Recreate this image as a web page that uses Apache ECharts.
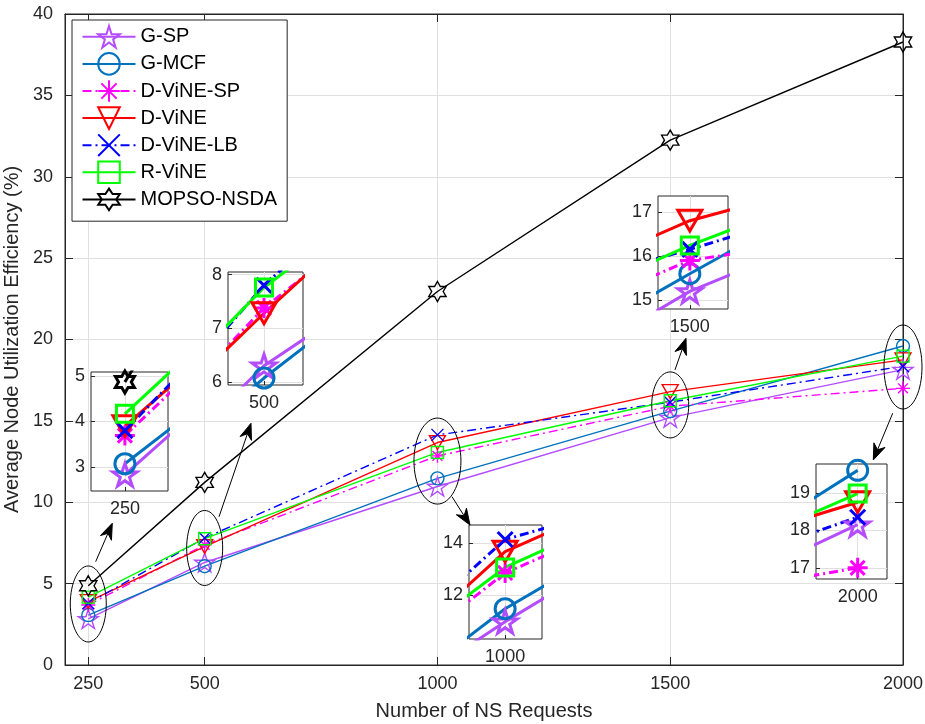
<!DOCTYPE html>
<html>
<head>
<meta charset="utf-8">
<script src="https://cdn.jsdelivr.net/npm/echarts@6/dist/echarts.min.js"></script>
<style>
  html, body { margin: 0; padding: 0; background: #fff; }
  #chart { width: 925px; height: 724px; }
</style>
</head>
<body>
<div id="chart"></div>
<script>
// ---- data ----------------------------------------------------------
const requests = [250, 500, 1000, 1500, 2000];
const xTickValues = [250, 500, 1000, 1500, 2000];
const seriesNames = ['G-SP', 'G-MCF', 'D-ViNE-SP', 'D-ViNE', 'D-ViNE-LB', 'R-ViNE', 'MOPSO-NSDA'];
const gSP     = [2.83, 6.30, 10.97, 15.20, 18.15];
const gMCF    = [3.07, 6.07, 11.47, 15.60, 19.60];
const dVineSP = [3.69, 7.38, 12.85, 15.90, 17.00];
const dVine   = [3.90, 7.28, 13.67, 16.80, 18.75];
const dVineLB = [3.80, 7.80, 14.14, 16.15, 18.35];
const rVine   = [4.17, 7.76, 13.06, 16.24, 18.98];
const mopso   = [4.87, 11.22, 22.95, 32.25, 38.28];

// magnified windows around each request count
const zoomCenters = [250, 500, 1000, 1500, 2000];
const zoomXRanges = [[202, 311], [452, 552], [901, 1101], [1450, 1560], [1912, 2062]];
const zoomYRanges = [[2.47, 5.09], [5.94, 8.05], [10.3, 14.7], [14.8, 17.36], [16.7, 19.77]];
const zoomYTicks  = [[3, 4, 5], [6, 7, 8], [12, 14], [15, 16, 17], [17, 18, 19]];

// ---- layout --------------------------------------------------------
const FONT = '"Liberation Sans", Arial, Helvetica, sans-serif';
const AXIS_COLOR = '#262626';
const GRID_COLOR = '#E0E0E0';
const mainBox = { left: 65, top: 14, width: 838, height: 651 };
const zoomBoxes = [
  { left: 91,  top: 372, width: 77, height: 119 },
  { left: 228, top: 272, width: 75, height: 113 },
  { left: 469, top: 525, width: 73, height: 114 },
  { left: 658, top: 196, width: 70, height: 113 },
  { left: 816, top: 464, width: 71, height: 115 }
];
// highlight ellipses: centre in data units, radii in px
const ellipses = [
  { at: [250, 3.75],   rx: 18,   ry: 38 },
  { at: [500, 7.19],   rx: 18,   ry: 37.5 },
  { at: [1000, 12.53], rx: 23.5, ry: 43 },
  { at: [1500, 15.98], rx: 18.5, ry: 33 },
  { at: [2000, 18.31], rx: 19,   ry: 42 }
];
// pointer arrows: tail -> tip in data units of the main axes
const arrows = [
  [[265.9, 6.35], [301.6, 8.71]],
  [[530.8, 9.11], [599.5, 14.85]],
  [[1031.3, 10.34], [1069.9, 8.6]],
  [[1510.2, 18.13], [1533.9, 20.07]],
  [[1977.9, 15.47], [1936.2, 12.6]]
];

// ---- marker shapes -------------------------------------------------
function starPath(points, innerRatio) {
  let d = '';
  for (let k = 0; k < 2 * points; k++) {
    const r = k % 2 === 0 ? 1 : innerRatio;
    const a = -Math.PI / 2 + k * Math.PI / points;
    d += (k ? 'L' : 'M') + (r * Math.cos(a)).toFixed(4) + ',' + (r * Math.sin(a)).toFixed(4);
  }
  return 'path://' + d + 'Z';
}
const pentagram = starPath(5, 0.382);
const hexagram = starPath(6, 0.577);
const asterisk = 'path://M0,-1L0,1M-1,0L1,0M-0.707,-0.707L0.707,0.707M-0.707,0.707L0.707,-0.707';
const crossMark = 'path://M-1,-1L1,1M-1,1L1,-1';
const triangleDown = 'path://M0,0L2,0L1,1.732Z';
const dashDot = [9, 4, 2, 4];

const looks = [
  { color: '#B44CFF', symbol: pentagram,    dash: 'solid', size: 20, zoomSize: 24 },
  { color: '#0072BD', symbol: 'circle',     dash: 'solid', size: 13, zoomSize: 20 },
  { color: '#FF00FF', symbol: asterisk,     dash: dashDot, size: 14, zoomSize: 20 },
  { color: '#FF0000', symbol: triangleDown, dash: 'solid', size: 16, zoomSize: 24 },
  { color: '#0000FF', symbol: crossMark,    dash: dashDot, size: 12, zoomSize: 15 },
  { color: '#00FF00', symbol: 'rect',       dash: 'solid', size: 12, zoomSize: 17 },
  { color: '#000000', symbol: hexagram,     dash: 'solid', size: 20, zoomSize: 22 }
];
const valueSets = [gSP, gMCF, dVineSP, dVine, dVineLB, rVine, mopso];
const toPairs = vals => requests.map((r, i) => [r, vals[i]]);
const plainNumber = v => String(v);

// ---- axes & grids --------------------------------------------------
const grids = [Object.assign({
  show: true, borderColor: AXIS_COLOR, borderWidth: 1, backgroundColor: 'transparent',
  z: 0, containLabel: false, outerBoundsMode: 'none'
}, mainBox)];
const xAxes = [
  {
    type: 'value', gridIndex: 0, min: 200, max: 2000, position: 'bottom',
    name: 'Number of NS Requests', nameLocation: 'middle', nameGap: 36,
    nameTextStyle: { fontFamily: FONT, fontSize: 20, color: AXIS_COLOR },
    axisLine: { show: true, onZero: false, lineStyle: { color: AXIS_COLOR, width: 1 } },
    axisTick: { show: true, inside: true, length: 8, customValues: xTickValues, lineStyle: { color: AXIS_COLOR } },
    axisLabel: { show: true, customValues: xTickValues, formatter: plainNumber, margin: 10, fontFamily: FONT, fontSize: 18, color: AXIS_COLOR },
    splitLine: { show: true, lineStyle: { color: GRID_COLOR, width: 1 } }
  },
  {
    type: 'value', gridIndex: 0, min: 200, max: 2000, position: 'top', z: 1,
    axisLine: { show: true, onZero: false, lineStyle: { color: AXIS_COLOR, width: 1 } },
    axisTick: { show: true, inside: true, length: 8, customValues: xTickValues, lineStyle: { color: AXIS_COLOR } },
    axisLabel: { show: false },
    splitLine: { show: false }
  }
];
const yAxes = [
  {
    type: 'value', gridIndex: 0, min: 0, max: 40, interval: 5, position: 'left',
    name: 'Average Node Utilization Efficiency (%)', nameLocation: 'middle', nameGap: 33,
    nameTextStyle: { fontFamily: FONT, fontSize: 20, color: AXIS_COLOR },
    axisLine: { show: true, onZero: false, lineStyle: { color: AXIS_COLOR, width: 1 } },
    axisTick: { show: true, inside: true, length: 8, lineStyle: { color: AXIS_COLOR } },
    axisLabel: { show: true, formatter: plainNumber, margin: 12, fontFamily: FONT, fontSize: 18, color: AXIS_COLOR },
    splitLine: { show: true, lineStyle: { color: GRID_COLOR, width: 1 } }
  },
  {
    type: 'value', gridIndex: 0, min: 0, max: 40, interval: 5, position: 'right', z: 1,
    axisLine: { show: true, onZero: false, lineStyle: { color: AXIS_COLOR, width: 1 } },
    axisTick: { show: true, inside: true, length: 8, lineStyle: { color: AXIS_COLOR } },
    axisLabel: { show: false },
    splitLine: { show: false }
  }
];

zoomBoxes.forEach((box, i) => {
  const g = i + 1;
  grids.push(Object.assign({
    show: true, borderColor: AXIS_COLOR, borderWidth: 1, backgroundColor: '#fff',
    z: 5, containLabel: false, outerBoundsMode: 'none'
  }, box));
  xAxes.push({
    type: 'value', gridIndex: g, min: zoomXRanges[i][0], max: zoomXRanges[i][1], z: 6,
    axisLine: { show: false },
    axisTick: { show: true, inside: true, length: 4, customValues: [zoomCenters[i]], lineStyle: { color: AXIS_COLOR } },
    axisLabel: { show: true, customValues: [zoomCenters[i]], formatter: plainNumber, margin: 9, fontFamily: FONT, fontSize: 18, color: AXIS_COLOR },
    splitLine: { show: true, lineStyle: { color: GRID_COLOR, width: 1 } }
  });
  yAxes.push({
    type: 'value', gridIndex: g, min: zoomYRanges[i][0], max: zoomYRanges[i][1], z: 6,
    axisLine: { show: false },
    axisTick: { show: true, inside: true, length: 4, customValues: zoomYTicks[i], lineStyle: { color: AXIS_COLOR } },
    axisLabel: { show: true, customValues: zoomYTicks[i], formatter: plainNumber, margin: 6, fontFamily: FONT, fontSize: 18, color: AXIS_COLOR },
    splitLine: { show: true, lineStyle: { color: GRID_COLOR, width: 1 } }
  });
});

// ---- series --------------------------------------------------------
const series = [];
function addSeries(k, axisIdx, lineW, size, z) {
  const lk = looks[k];
  series.push({
    type: 'line', name: seriesNames[k], data: toPairs(valueSets[k]),
    xAxisIndex: axisIdx, yAxisIndex: axisIdx, z: z, clip: true,
    symbol: lk.symbol, symbolSize: size, symbolKeepAspect: true, showSymbol: true,
    lineStyle: { color: lk.color, width: lineW, type: lk.dash },
    itemStyle: { color: 'rgba(0,0,0,0)', borderColor: lk.color, borderWidth: lineW },
    emphasis: { disabled: true }, silent: true
  });
}
for (let k = 0; k < valueSets.length; k++) addSeries(k, 0, 1.4, looks[k].size, 2);
zoomBoxes.forEach((box, i) => {
  for (let k = 0; k < valueSets.length; k++) addSeries(k, i + 2, 3, looks[k].zoomSize, 7);
});

const chart = echarts.init(document.getElementById('chart'), null, { renderer: 'canvas' });
chart.setOption({
  animation: false,
  backgroundColor: '#fff',
  textStyle: { fontFamily: FONT },
  grid: grids,
  xAxis: xAxes,
  yAxis: yAxes,
  legend: {
    data: seriesNames, orient: 'vertical', left: 72, top: 20,
    itemWidth: 53, itemHeight: 27, itemGap: 3.5,
    padding: [5, 10, 10, 9.5],
    backgroundColor: '#fff', borderColor: AXIS_COLOR, borderWidth: 1, borderRadius: 0,
    textStyle: { fontFamily: FONT, fontSize: 20, color: '#000' },
    selectedMode: false, z: 8
  },
  series: series
});

// ---- annotations (ellipses and arrows) ----------------------------
const toPx = p => chart.convertToPixel({ gridIndex: 0 }, p);
const graphics = [];
ellipses.forEach(e => {
  const c = toPx(e.at);
  graphics.push({
    type: 'ellipse', silent: true, z: 9,
    shape: { cx: c[0], cy: c[1], rx: e.rx, ry: e.ry },
    style: { fill: 'rgba(0,0,0,0)', stroke: '#000', lineWidth: 1 }
  });
});
arrows.forEach(a => {
  const t = toPx(a[0]), h = toPx(a[1]);
  const dx = h[0] - t[0], dy = h[1] - t[1];
  const len = Math.hypot(dx, dy);
  const ux = dx / len, uy = dy / len, nx = -uy, ny = ux;
  const L = 16, W = 6, notch = 5;
  const bx = h[0] - L * ux, by = h[1] - L * uy;
  const mx = h[0] - (L - notch) * ux, my = h[1] - (L - notch) * uy;
  graphics.push({
    type: 'line', silent: true, z: 9,
    shape: { x1: t[0], y1: t[1], x2: mx, y2: my },
    style: { stroke: '#000', lineWidth: 1 }
  });
  graphics.push({
    type: 'polygon', silent: true, z: 9,
    shape: { points: [[h[0], h[1]], [bx + W * nx, by + W * ny], [mx, my], [bx - W * nx, by - W * ny]] },
    style: { fill: '#000', stroke: '#000', lineWidth: 1 }
  });
});
chart.setOption({ graphic: graphics });
</script>
</body>
</html>
